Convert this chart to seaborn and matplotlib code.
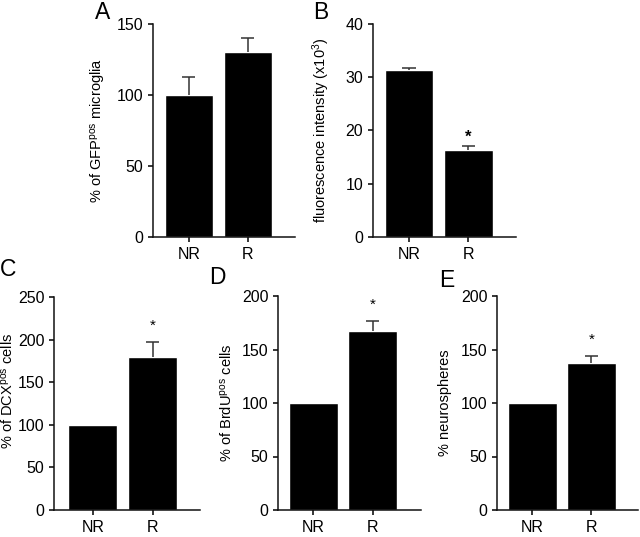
import numpy as np
import matplotlib
matplotlib.use('Agg')
import matplotlib.pyplot as plt
import seaborn as sns

sns.set_style('ticks')
plt.rcParams['font.family'] = ['Liberation Sans', 'DejaVu Sans']
plt.rcParams['mathtext.fontset'] = 'custom'
plt.rcParams['mathtext.rm'] = 'Liberation Sans'
plt.rcParams['mathtext.it'] = 'Liberation Sans'
plt.rcParams['text.color'] = 'black'
plt.rcParams['axes.labelcolor'] = 'black'
plt.rcParams['xtick.color'] = 'black'
plt.rcParams['ytick.color'] = 'black'

groups = ['NR', 'R']

# panel A - GFP microglia
a_vals = [100, 130]
a_err = [13, 10]
# panel B - fluorescence intensity
b_vals = [31.4, 16.4]
b_err = [0.3, 0.6]
# panel C - DCX cells
c_vals = [100, 180]
c_err = [0, 17]
# panel D - BrdU cells
d_vals = [100, 167]
d_err = [0, 10]
# panel E - neurospheres
e_vals = [100, 137]
e_err = [0, 7]

W, H = 640, 537
fig = plt.figure(figsize=(6.4, 5.37), dpi=100)


def add_ax(left, right, top, bottom):
    return fig.add_axes([left / W, 1 - bottom / H, (right - left) / W, (bottom - top) / H])


panels = [
    # letter, vals, err, ylabel, ymax, step, box px, xlim, star, letter pos, label xy
    ('A', a_vals, a_err, r'% of GFP$^{\mathrm{pos}}$ microglia', 150, 50,
     (153, 295, 24, 237), (-0.61, 1.80), False, (95, 1), (-0.317, 0.5)),
    ('B', b_vals, b_err, r'fluorescence intensity (x10$^{\mathrm{3}}$)', 40, 10,
     (373, 516, 24, 237), (-0.605, 1.80), True, (313, 1), (-0.287, 0.5)),
    ('C', c_vals, c_err, r'% of DCX$^{\mathrm{pos}}$ cells', 250, 50,
     (54, 200, 297, 510), (-0.65, 1.79), True, (0, 258), (-0.26, 0.56)),
    ('D', d_vals, d_err, r'% of BrdU$^{\mathrm{pos}}$ cells', 200, 50,
     (278, 421, 296, 510), (-0.60, 1.82), True, (209, 266), (-0.306, 0.5)),
    ('E', e_vals, e_err, '% neurospheres', 200, 50,
     (497, 638, 296, 510), (-0.60, 1.79), True, (439, 269), (-0.319, 0.5)),
]

for letter, vals, err, ylabel, ymax, step, box, xlim, star, lpos, lxy in panels:
    ax = add_ax(*box)
    sns.barplot(x=groups, y=vals, color='black', saturation=1, width=0.82,
                errorbar=None, ax=ax)
    # upper-only error bars with a cap
    for i, (v, e) in enumerate(zip(vals, err)):
        if e > 0:
            ax.vlines(i, v, v + e, color='#333333', lw=1.1)
            ax.hlines(v + e, i - 0.11, i + 0.11, color='#333333', lw=1.1)
    ax.set_ylim(0, ymax)
    ax.set_xlim(*xlim)
    ax.set_yticks(np.arange(0, ymax + 1, step))
    ax.tick_params(axis='both', labelsize=11.5, length=3.5, width=1.1)
    for s in ['top', 'right']:
        ax.spines[s].set_visible(False)
    for s in ['left', 'bottom']:
        ax.spines[s].set_linewidth(1.1)
        ax.spines[s].set_color('#111111')
    ax.set_ylabel(ylabel, fontsize=10.5)
    ax.yaxis.set_label_coords(*lxy)
    ax.set_xlabel('')
    if star:
        ytop = vals[1] + err[1]
        if letter == 'B':
            ax.text(1, ytop + 0.045 * ymax, '*', ha='center', va='center',
                    fontsize=12, fontweight='bold')
        else:
            ax.text(1, ytop + 0.075 * ymax, '*', ha='center', va='center', fontsize=11)
    fig.text(lpos[0] / W, 1 - lpos[1] / H, letter, ha='left', va='top', fontsize=16.5)

fig.savefig('out.png', dpi=100, facecolor='white')
